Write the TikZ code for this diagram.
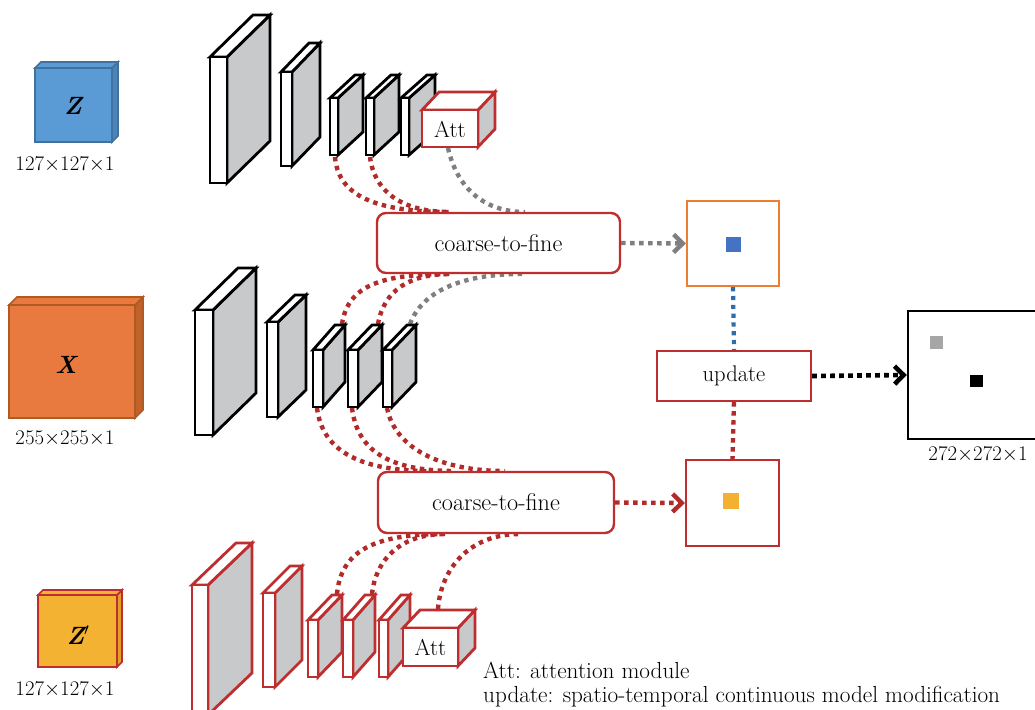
\documentclass[tikz,border=0pt]{standalone}
\usepackage{fontspec}
\usetikzlibrary{arrows.meta,calc}
\definecolor{boxred}{HTML}{BE2E2E}
\definecolor{dotred}{HTML}{B22B2B}
\definecolor{dotgray}{HTML}{7F7F7F}
\definecolor{dotblue}{HTML}{2E6DAA}
\definecolor{slabgray}{HTML}{C8C9CB}
\definecolor{zblue}{HTML}{5B9BD5}
\definecolor{zblueside}{HTML}{4A84BC}
\definecolor{zblueedge}{HTML}{41719C}
\definecolor{xorange}{HTML}{E97A3F}
\definecolor{xorangeside}{HTML}{C0622A}
\definecolor{xorangeedge}{HTML}{AE5A21}
\definecolor{zyellow}{HTML}{F4B233}
\definecolor{zyellowside}{HTML}{E0A028}
\definecolor{boxorange}{HTML}{ED7D31}
\definecolor{sqblue}{HTML}{4472C4}
\definecolor{sqorange}{HTML}{F4B030}
\definecolor{sqgray}{HTML}{A6A6A6}
\newcommand\slab[7]{%
  \filldraw[draw=#7,fill=slabgray,line width=2.8] ({#2},{#3}) -- ({#2+#5},{#3+#6}) -- ({#2+#5},{#4+#6}) -- ({#2},{#4}) -- cycle;
  \filldraw[draw=#7,fill=white,line width=2.8] ({#1},{#3}) -- ({#1+#5},{#3+#6}) -- ({#2+#5},{#3+#6}) -- ({#2},{#3}) -- cycle;
  \filldraw[draw=#7,fill=white,line width=2.8] ({#1},{#3}) rectangle ({#2},{#4});
}
\newcommand\inputcube[8]{%
  \filldraw[draw=#7,fill=#6,line width=1.6] ({#3},{#2}) -- ({#3+#5},{#2-#5}) -- ({#3+#5},{#4-#5}) -- ({#3},{#4}) -- cycle;
  \filldraw[draw=#7,fill=#8,line width=1.6] ({#1},{#2}) -- ({#1+#5},{#2-#5}) -- ({#3+#5},{#2-#5}) -- ({#3},{#2}) -- cycle;
  \filldraw[draw=#7,fill=#8,line width=1.6] ({#1},{#2}) rectangle ({#3},{#4});
}
\tikzset{
  lab/.style={font=\fontsize{20.8}{24}\selectfont, inner sep=0},
  attlab/.style={font=\fontsize{23}{26}\selectfont, inner sep=0},
  leg/.style={font=\fontsize{23.2}{27}\selectfont, inner sep=0},
  cubelab/.style={font=\fontsize{25}{28}\selectfont\bfseries\itshape, inner sep=0},
  ctf/.style={draw=boxred, line width=2.4, rounded corners=9, fill=white, font=\fontsize{24.2}{28}\selectfont, inner sep=0},
  plainbox/.style={line width=2.4, fill=white, inner sep=0},
  dotr/.style={draw=dotred, line width=4.4, dash pattern=on 4.4pt off 4.6pt},
  dotg/.style={draw=dotgray, line width=4.4, dash pattern=on 4.4pt off 4.6pt},
  dotb/.style={draw=dotblue, line width=4.2, dash pattern=on 4.2pt off 4.6pt},
  dotk/.style={draw=black, line width=4.6, dash pattern=on 4.6pt off 4.4pt},
  chev/.style={-{Straight Barb[length=9pt,width=18pt]}},
}
\begin{document}
\begin{tikzpicture}[x=1pt,y=-1pt]
\useasboundingbox (0,0) rectangle (1035,709);
\clip (0,0) rectangle (1035,709);

% ---------- anchor coordinates ----------
\coordinate (t3) at (335,157);
\coordinate (t4) at (370,157);
\coordinate (tatt) at (448,148);
\coordinate (m3u) at (342,324);
\coordinate (m4u) at (378,324);
\coordinate (m5u) at (410,324);
\coordinate (m3d) at (317,408);
\coordinate (m4d) at (352,408);
\coordinate (m5d) at (387,408);
\coordinate (b3) at (337,594);
\coordinate (b4) at (372,594);
\coordinate (batt) at (438,609);
\coordinate (cAt1) at (450,212);
\coordinate (cAt2) at (525,212);
\coordinate (cAb1) at (450,274);
\coordinate (cAb2) at (522,274);
\coordinate (cBt1) at (430,471);
\coordinate (cBt2) at (455,471);
\coordinate (cBt3) at (505,471);
\coordinate (cBb1) at (445,534);
\coordinate (cBb2) at (520,534);

% ---------- curved connectors ----------
\draw[dotr] (t3) .. controls (338,192) and (368,212) .. (cAt1);
\draw[dotr] (t4) .. controls (374,190) and (400,212) .. (cAt1);
\draw[dotg] (tatt) .. controls (458,192) and (488,212) .. (cAt2);
\draw[dotr] (m3u) .. controls (348,285) and (382,274) .. (cAb1);
\draw[dotr] (m4u) .. controls (384,290) and (410,274) .. (cAb1);
\draw[dotg] (m5u) .. controls (422,292) and (460,274) .. (cAb2);
\draw[dotr] (m3d) .. controls (322,448) and (355,471) .. (cBt1);
\draw[dotr] (m4d) .. controls (357,448) and (385,471) .. (cBt2);
\draw[dotr] (m5d) .. controls (395,448) and (440,471) .. (cBt3);
\draw[dotr] (b3) .. controls (341,552) and (372,534) .. (cBb1);
\draw[dotr] (b4) .. controls (376,558) and (402,534) .. (cBb1);
\draw[dotr] (batt) .. controls (441,568) and (470,534) .. (cBb2);

% ---------- boxes ----------
\node[ctf, minimum width=243, minimum height=60] (ctfA) at (498.5,243) {coarse-to-fine};
\node[ctf, minimum width=236, minimum height=61] (ctfB) at (496,502.5) {coarse-to-fine};
\node[plainbox, draw=boxorange, minimum width=92, minimum height=85] (boxA) at (733,243.5) {};
\node[plainbox, draw=boxred, minimum width=93, minimum height=86] (boxB) at (732.5,503) {};
\node[plainbox, draw=boxred, minimum width=154, minimum height=50, font=\fontsize{22.6}{26}\selectfont] (upd) at (734,376) {update};
\node[plainbox, draw=black, minimum width=140, minimum height=128] (out) at (978,375) {};
\node[fill=sqblue, minimum size=15, inner sep=0] (sqA) at (733,244.5) {};
\node[fill=sqorange, minimum size=16, inner sep=0] (sqB) at (731,501) {};
\node[fill=sqgray, minimum size=12.5, inner sep=0] (sqG) at (936.5,342.5) {};
\node[fill=black, minimum size=12.5, inner sep=0] (sqK) at (976.5,381) {};
\node[lab, anchor=north] (outlab) at (978,446) {272$\times$272$\times$1};

% ---------- straight connectors ----------
\draw[dotg, chev] (ctfA.east) -- (boxA.west);
\draw[dotr, chev] (ctfB.east) -- (boxB.west);
\draw[dotb] (boxA.south) -- (upd.north);
\draw[dotr] (upd.south) -- (boxB.north);
\draw[dotk, chev] (upd.east) -- (out.west);

% ---------- input cubes ----------
\inputcube{35}{68}{112}{142}{6}{zblueside}{zblueedge}{zblue}
\node[cubelab] (zl) at (73,106) {Z};
\node[lab, anchor=north] (zs) at (65,156) {127$\times$127$\times$1};
\inputcube{9}{305}{135}{418}{8}{xorangeside}{xorangeedge}{xorange}
\node[cubelab] (xl) at (66,365) {X};
\node[lab, anchor=north] (xs) at (65,431) {255$\times$255$\times$1};
\inputcube{38}{595}{117}{667}{5}{zyellowside}{boxred}{zyellow}
\node[cubelab] (zpl) at (78,635) {Z$'$};
\node[lab, anchor=north] (zps) at (65,681) {127$\times$127$\times$1};

% ---------- top branch ----------
\slab{210}{227}{57}{183}{43}{-42}{black}
\slab{281}{292}{72}{166}{28}{-29}{black}
\slab{330}{338}{98}{155}{25}{-23}{black}
\slab{366}{374}{98}{155}{25}{-23}{black}
\slab{401}{409}{98}{155}{26}{-23}{black}
\slab{422}{478}{110}{147}{17}{-18}{boxred}
\node[attlab] (attA) at (450,129) {Att};

% ---------- middle branch ----------
\slab{195}{213}{310}{435}{43}{-42}{black}
\slab{267}{278}{322}{417}{28}{-27}{black}
\slab{313}{323}{350}{407}{22}{-25}{black}
\slab{348}{358}{350}{407}{24}{-25}{black}
\slab{383}{392}{350}{407}{24}{-25}{black}

% ---------- bottom branch ----------
\slab{192}{208}{585}{715}{44}{-42}{boxred}
\slab{263}{275}{593}{687}{27}{-27}{boxred}
\slab{308}{318}{620}{677}{24}{-25}{boxred}
\slab{343}{353}{620}{677}{22}{-25}{boxred}
\slab{379}{388}{620}{677}{22}{-25}{boxred}
\slab{403}{458}{628}{666}{17}{-18}{boxred}
\node[attlab] (attB) at (430.5,647) {Att};

% ---------- legend ----------
\node[leg, anchor=base west] (leg1) at (483,678) {Att: attention module};
\node[leg, anchor=base west] (leg2) at (483,702) {update: spatio-temporal continuous model modification};
\end{tikzpicture}
\end{document}
